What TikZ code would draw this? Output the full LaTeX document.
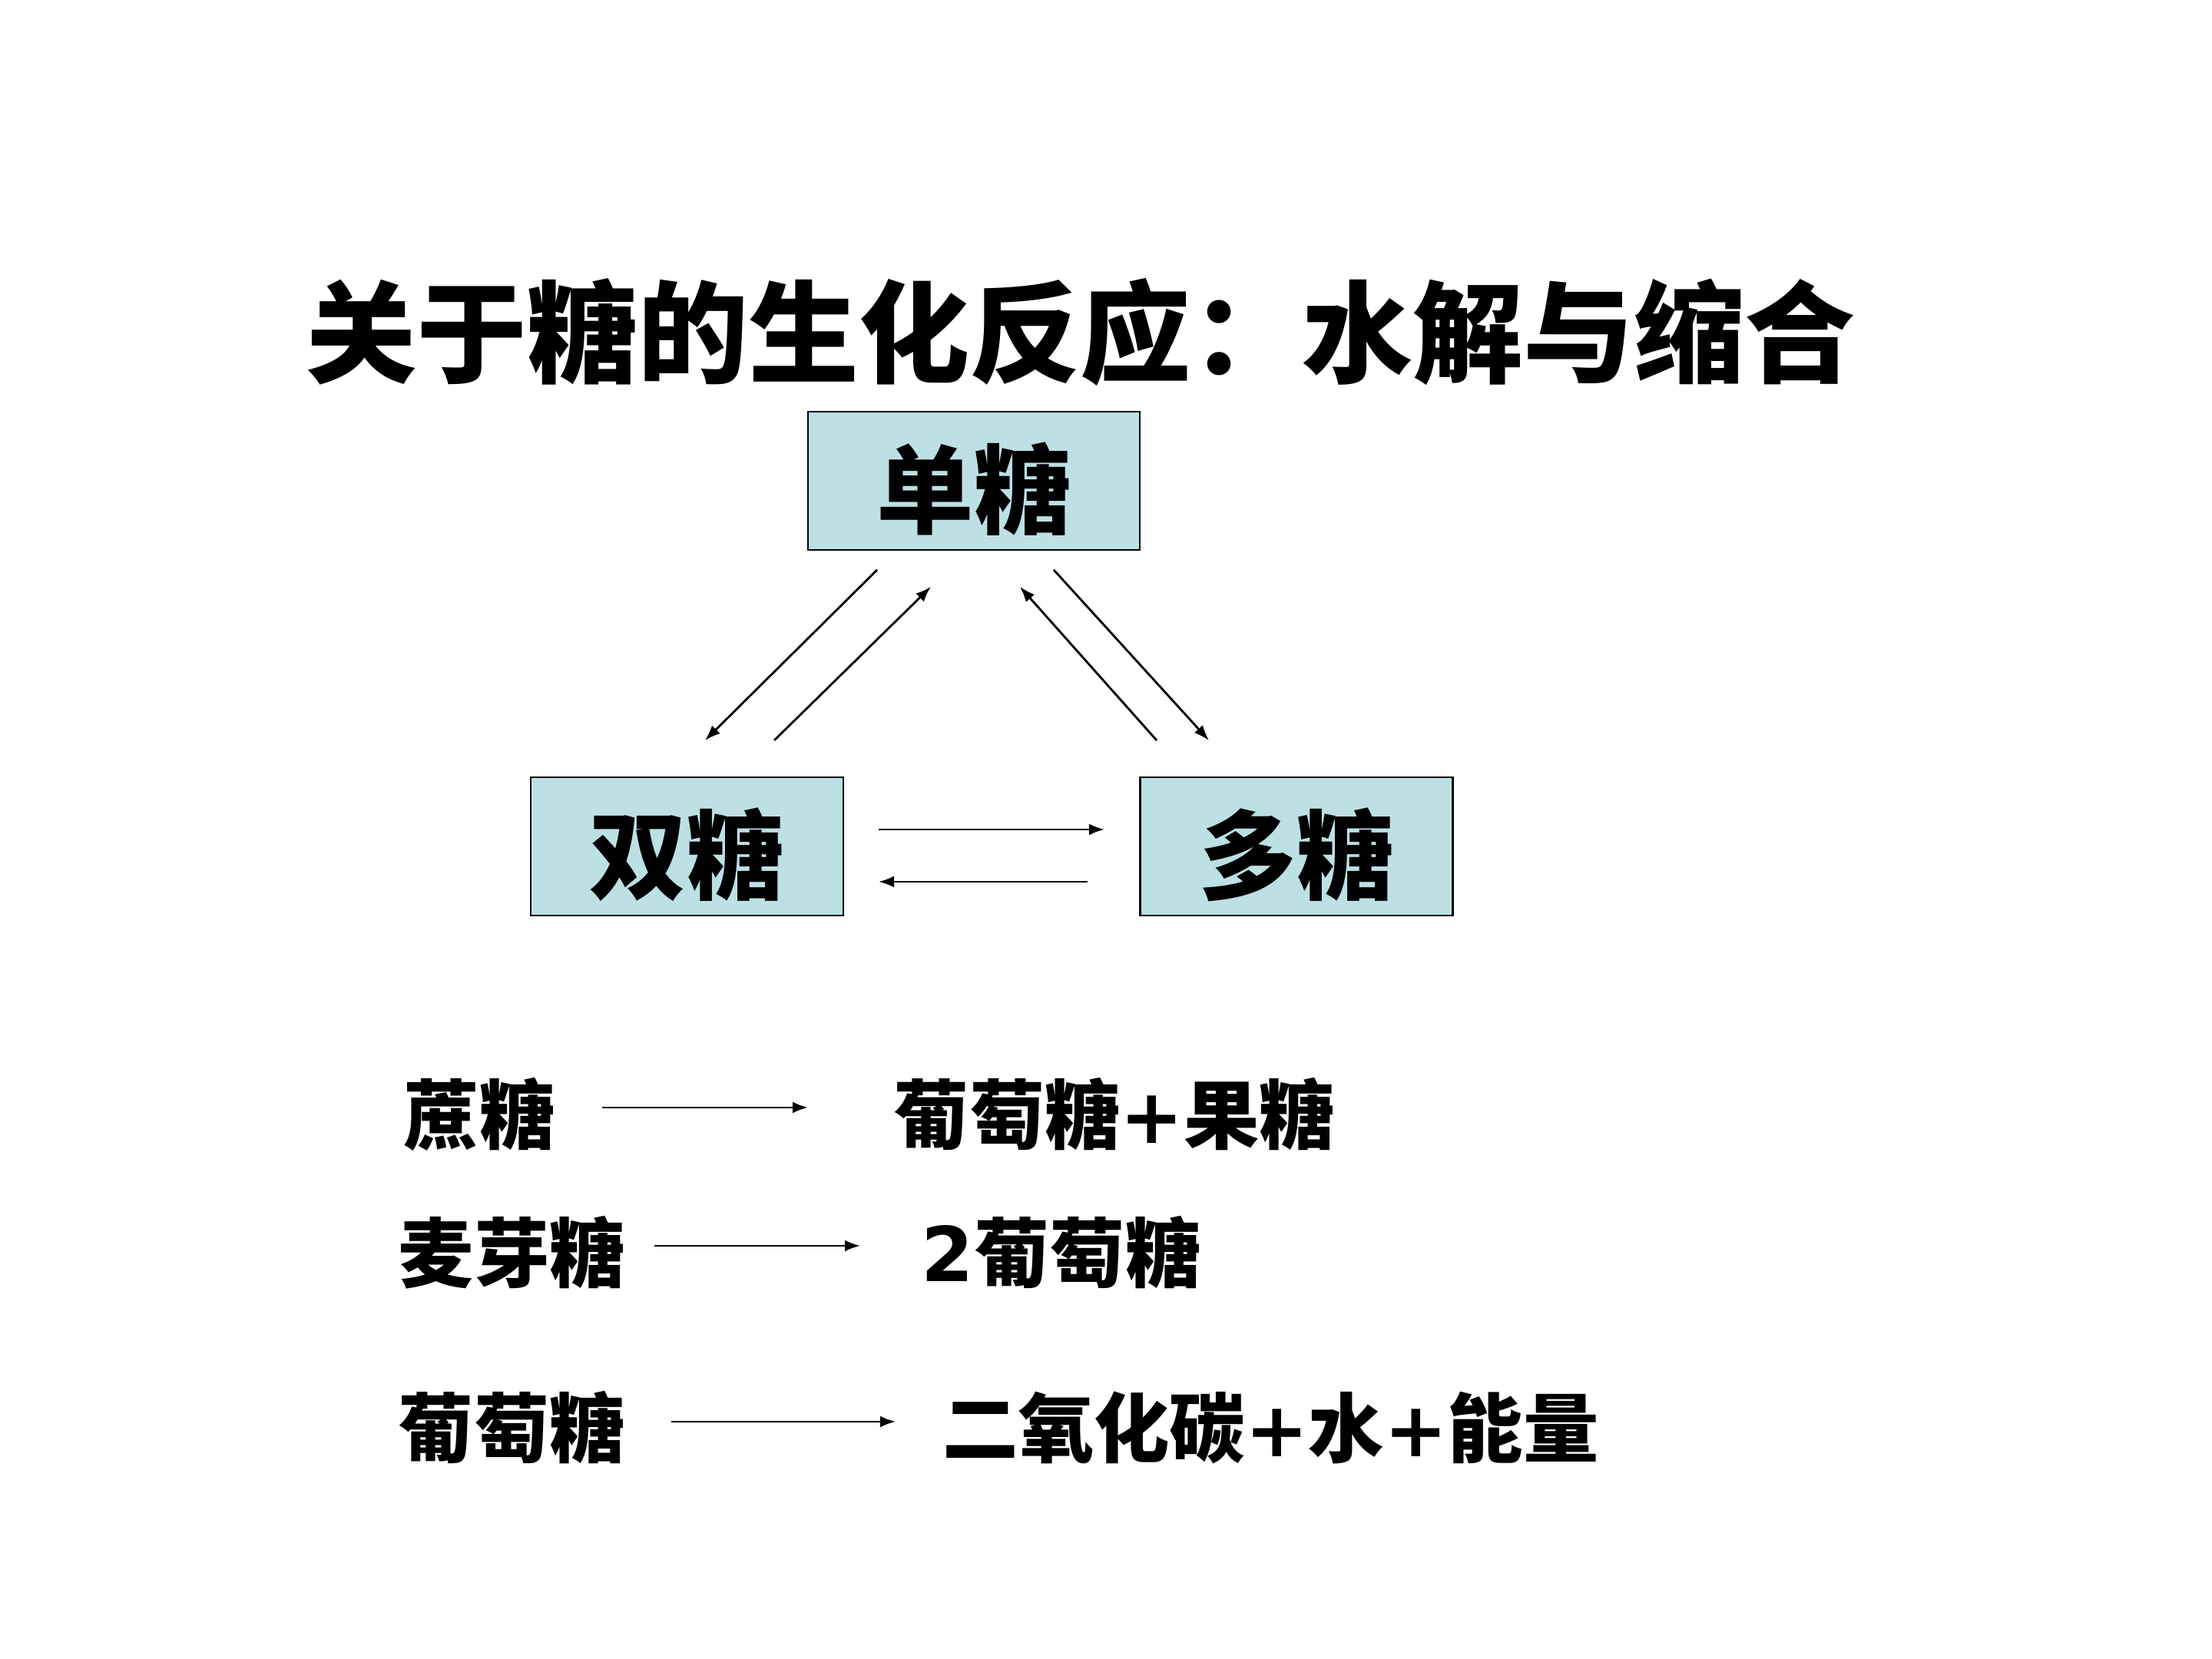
\documentclass[tikz,border=0pt]{standalone}
\usepackage{fontspec}
\setmainfont{Noto Sans CJK SC}
\newfontfamily\latinbold{DejaVu Sans}
\usetikzlibrary{positioning}
\usetikzlibrary{arrows.meta}
\definecolor{boxfill}{RGB}{188,224,227}
\tikzset{
  sugar/.style={draw, fill=boxfill, line width=0.75pt, minimum width=4.07cm,
    minimum height=1.80cm, inner sep=0pt, text height=13.4mm, text depth=1.5mm,
    font=\fontsize{36}{38}\selectfont\bfseries},
  conv/.style={line width=0.8pt, -{Latex[length=2mm,width=1.5mm]}},
  eq/.style={anchor=west, inner sep=0pt, font=\fontsize{28}{30}\selectfont\bfseries}
}
\newcommand{\plus}{{\latinbold\bfseries +}}
\begin{document}
\begin{tikzpicture}
\useasboundingbox (0,0) rectangle (28.8,21.6);
\node (title) at (14.07,17.28) {\fontsize{41}{43}\selectfont\bfseries 关于糖的生化反应：水解与缩合};
% the three sugars
\node[sugar, minimum width=4.32cm] (dan) at (12.68,15.34) {单糖};
\node[sugar] (shuang) at (8.945,10.58) {双糖};
\node[sugar] (duo) at (16.88,10.58) {多糖};
% arrow ends
\coordinate (d1) at (11.42,14.18); \coordinate (s1) at (9.18,11.96);
\coordinate (s2) at (10.08,11.96); \coordinate (d2) at (12.12,13.96);
\coordinate (o1) at (15.06,11.96); \coordinate (d3) at (13.28,13.96);
\coordinate (d4) at (13.72,14.18); \coordinate (o2) at (15.74,11.96);
\coordinate (s3) at (11.44,10.80); \coordinate (o3) at (14.38,10.80);
\coordinate (o4) at (14.16,10.12); \coordinate (s4) at (11.44,10.12);
\draw[conv] (d1) -- (s1);
\draw[conv] (s2) -- (d2);
\draw[conv] (o1) -- (d3);
\draw[conv] (d4) -- (o2);
\draw[conv] (s3) -- (o3);
\draw[conv] (o4) -- (s4);
% reactions
\node[eq] (zhe) at (5.25,7.09) {蔗糖};
\node[eq] (zheout) at (11.63,7.09) {葡萄糖\plus 果糖};
\node[eq] (mai) at (5.18,5.29) {麦芽糖};
\node[eq] (maiout) at (11.99,5.29) {{\latinbold\bfseries 2}葡萄糖};
\node[eq] (pu) at (5.18,3.01) {葡萄糖};
\node[eq] (puout) at (12.27,3.01) {二氧化碳\plus 水\plus 能量};
\coordinate (r1a) at (7.84,7.18); \coordinate (r1b) at (10.52,7.18);
\coordinate (r2a) at (8.52,5.38); \coordinate (r2b) at (11.20,5.38);
\coordinate (r3a) at (8.74,3.09); \coordinate (r3b) at (11.66,3.09);
\draw[conv] (r1a) -- (r1b);
\draw[conv] (r2a) -- (r2b);
\draw[conv] (r3a) -- (r3b);
\end{tikzpicture}
\end{document}
